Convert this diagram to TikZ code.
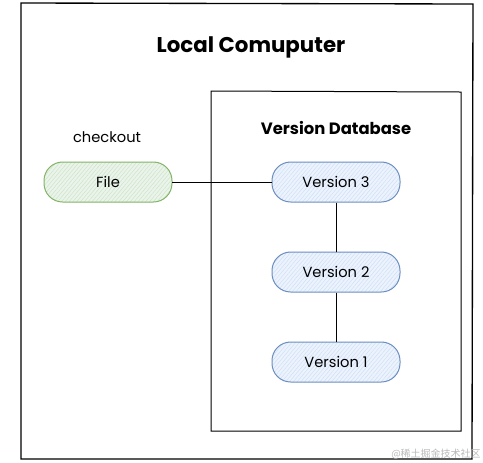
\documentclass[tikz,border=0pt]{standalone}
\usepackage{fontspec}
\setmainfont{Poppins}
\newfontfamily\cjk{Noto Sans CJK SC}
\usetikzlibrary{patterns.meta}

\definecolor{fileDraw}{RGB}{130,179,102}
\definecolor{fileFill}{RGB}{205,228,203}
\definecolor{verDraw}{RGB}{108,142,191}
\definecolor{verFill}{RGB}{208,224,248}

\tikzset{every picture/.style={line width=0.75pt},
	pill/.style={rounded corners=14pt, minimum width=96pt, minimum height=30pt, inner sep=0.75pt, font=\fontsize{11}{13}\selectfont},
	filepill/.style={pill, draw=fileDraw, preaction={fill=fileFill!40}, pattern={Lines[angle=50,distance=2.2pt,line width=0.4pt]}, pattern color=fileFill},
	verpill/.style={pill, draw=verDraw, preaction={fill=verFill!40}, pattern={Lines[angle=50,distance=2.2pt,line width=0.4pt]}, pattern color=verFill}
}

\begin{document}
\begin{tikzpicture}[x=0.75pt,y=0.75pt,yscale=-1,xscale=1]
				\useasboundingbox (0,0) rectangle (483,462);
				%Shape: Rectangle [outer frame]
				\draw  [line width=1pt] (21,3) -- (473,4) -- (472,459) -- (21,459) -- cycle ;
				%Shape: Rectangle [database frame]
				\draw  (211,91) -- (461,92) -- (461,431) -- (211,431) -- cycle ;
				% Text Node
				\draw (251,47) node [font=\bfseries\fontsize{16}{19}\selectfont] (title) {Local Comuputer};
				% Text Node
				\draw (107,137) node [font=\fontsize{11}{13}\selectfont] (checkout) {checkout};
				% Text Node
				\draw (336,128) node [font=\bfseries\fontsize{12.3}{14}\selectfont] (dbtitle) {Version Database};
				%Shape: Rounded Rect
				\draw (108,182) node [filepill] (file) {File};
				%Shape: Rounded Rect
				\draw (336,182) node [verpill] (ver3) {Version 3};
				%Shape: Rounded Rect
				\draw (336,272) node [verpill] (ver2) {Version 2};
				%Shape: Rounded Rect
				\draw (336,362) node [verpill] (ver1) {Version 1};
				%Straight Lines
				\draw (file) -- (ver3) ;
				\draw (ver3) -- (ver2) ;
				\draw (ver2) -- (ver1) ;
				% Text Node
				\draw (436,454) node [text=gray!55, font=\cjk\fontsize{7.5}{9}\selectfont] (mark) {@稀土掘金技术社区};
\end{tikzpicture}
\end{document}
